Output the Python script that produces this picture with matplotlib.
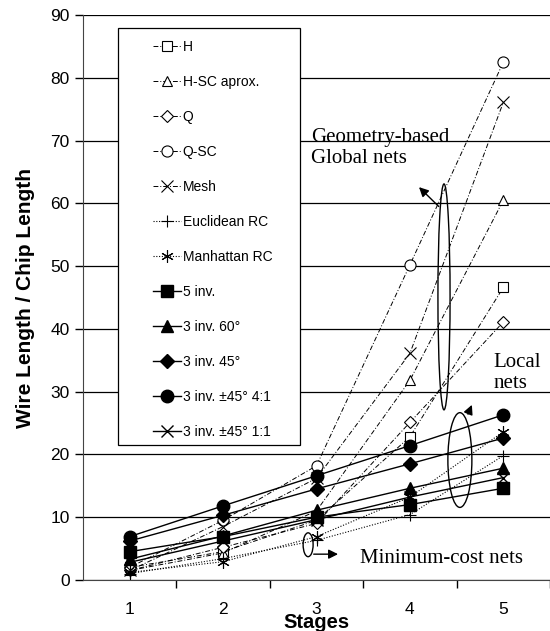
import matplotlib.pyplot as plt
from matplotlib.patches import Ellipse, Rectangle

stages = [1, 2, 3, 4, 5]
tick_labels = ['1', '2', '3', '4', '5']

# geometry-based (global nets)
h_tree = [2.0, 4.5, 9.5, 22.8, 46.6]
h_sc = [1.5, 4.3, 11.0, 31.8, 60.5]
q_tree = [1.5, 5.2, 9.0, 25.1, 41.1]
q_sc = [2.0, 9.5, 18.2, 50.2, 82.5]
mesh = [1.5, 8.5, 16.2, 36.1, 76.1]
# minimum-cost nets
euclid_rc = [1.0, 3.4, 6.3, 10.4, 19.8]
manhattan_rc = [1.2, 2.9, 6.9, 13.2, 23.6]
# local nets
inv5 = [4.5, 6.9, 10.0, 12.0, 14.6]
inv3_60 = [3.3, 7.0, 11.1, 14.6, 17.8]
inv3_45 = [6.2, 10.3, 14.5, 18.5, 22.6]
inv3_4to1 = [6.9, 11.8, 16.6, 21.4, 26.3]
inv3_1to1 = [2.8, 6.2, 9.6, 13.2, 16.3]

plt.rcParams['font.family'] = ['Liberation Sans', 'DejaVu Sans']

fig = plt.figure(figsize=(5.5, 6.31), dpi=100)
ax = fig.add_axes([0.151, 0.081, 0.849, 0.895])

dd = (0, (5, 2, 1, 2))
ax.plot(stages, h_tree, linestyle=dd, color='black', lw=0.7, marker='s', ms=7, mfc='white', mec='black', mew=0.8, label='H')
ax.plot(stages, h_sc, linestyle=dd, color='black', lw=0.7, marker='^', ms=7, mfc='white', mec='black', mew=0.8, label='H-SC aprox.')
ax.plot(stages, q_tree, linestyle=dd, color='black', lw=0.7, marker='D', ms=6, mfc='white', mec='black', mew=0.8, label='Q')
ax.plot(stages, q_sc, linestyle=dd, color='black', lw=0.7, marker='o', ms=8, mfc='white', mec='black', mew=0.8, label='Q-SC')
ax.plot(stages, mesh, linestyle=dd, color='black', lw=0.7, marker='x', ms=8, mec='black', mew=0.8, label='Mesh')
ax.plot(stages, euclid_rc, linestyle=(0, (1, 1.5)), color='black', lw=0.8, marker='+', ms=9, mec='black', mew=0.8, label='Euclidean RC')
ax.plot(stages, manhattan_rc, linestyle=(0, (1, 1.5)), color='black', lw=0.8, marker=(6, 2, 0), ms=9, mec='black', mew=0.8, label='Manhattan RC')
ax.plot(stages, inv5, '-', color='black', lw=1.0, marker='s', ms=8, label='5 inv.')
ax.plot(stages, inv3_60, '-', color='black', lw=1.0, marker='^', ms=8, label='3 inv. 60°')
ax.plot(stages, inv3_45, '-', color='black', lw=1.0, marker='D', ms=7, label='3 inv. 45°')
ax.plot(stages, inv3_4to1, '-', color='black', lw=1.0, marker='o', ms=9, label='3 inv. ±45° 4:1')
ax.plot(stages, inv3_1to1, '-', color='black', lw=1.0, marker='x', ms=8, mew=1.0, label='3 inv. ±45° 1:1')

ax.set_xlim(0.5, 5.5)
ax.set_ylim(0, 90)
ax.set_yticks(range(0, 91, 10))
ax.set_xticks(stages)
ax.set_xticklabels(tick_labels)
ax.set_xticks([1.5, 2.5, 3.5, 4.5, 5.5], minor=True)
ax.tick_params(axis='x', which='major', length=0, labelsize=12.5, pad=16)
ax.tick_params(axis='x', which='minor', length=6, direction='out', width=1)
ax.tick_params(axis='y', length=6, direction='out', labelsize=12.5, width=1)
ax.yaxis.grid(True, color='black', lw=0.9)
ax.set_axisbelow(True)
for s in ['top', 'right']:
    ax.spines[s].set_visible(False)
ax.spines['left'].set_color('#444444')
ax.spines['bottom'].set_color('#444444')

ax.set_ylabel('Wire Length / Chip Length', fontsize=15, fontweight='bold', labelpad=11)
ax.set_xlabel('Stages', fontsize=14.5, fontweight='bold', labelpad=-3)

# legend box drawn separately so the handles can sit well inside it
box = Rectangle((118 / 550, 1 - 445 / 631), 182 / 550, 417 / 631, transform=fig.transFigure,
                facecolor='white', edgecolor='black', lw=0.9, zorder=4.5, clip_on=False)
ax.add_patch(box)
leg = ax.legend(loc='upper left', bbox_to_anchor=(146 / 550, 1 - 33 / 631), bbox_transform=fig.transFigure,
                fontsize=10, handlelength=2.0, handletextpad=0.15, labelspacing=1.51,
                borderpad=0, frameon=False)
leg.set_zorder(5)

# annotations
serif = ['Liberation Serif', 'DejaVu Serif']
ax.text(2.94, 65.6, 'Geometry-based\nGlobal nets', family=serif, fontsize=15, linespacing=1.15, va='bottom')
ax.text(4.89, 29.8, 'Local\nnets', family=serif, fontsize=15, linespacing=1.15, va='bottom')
ax.text(3.47, 2.7, 'Minimum-cost nets', family=serif, fontsize=15)

ax.add_patch(Ellipse((4.365, 45.1), 0.13, 36.0, fill=False, ec='black', lw=1.0))
ax.add_patch(Ellipse((4.535, 19.1), 0.257, 15.1, fill=False, ec='black', lw=1.0))
ax.add_patch(Ellipse((2.91, 5.6), 0.107, 3.8, fill=False, ec='black', lw=1.0))

ax.annotate('', xy=(4.076, 62.9), xytext=(4.33, 59.2),
            arrowprops=dict(arrowstyle='-|>', color='black', lw=1.0, mutation_scale=14))
ax.annotate('', xy=(4.675, 28.3), xytext=(4.61, 26.0),
            arrowprops=dict(arrowstyle='-|>', color='black', lw=1.0, mutation_scale=14))
ax.annotate('', xy=(3.26, 4.1), xytext=(2.94, 4.1),
            arrowprops=dict(arrowstyle='-|>', color='black', lw=1.0, mutation_scale=14))

fig.savefig('out.png', dpi=100)
